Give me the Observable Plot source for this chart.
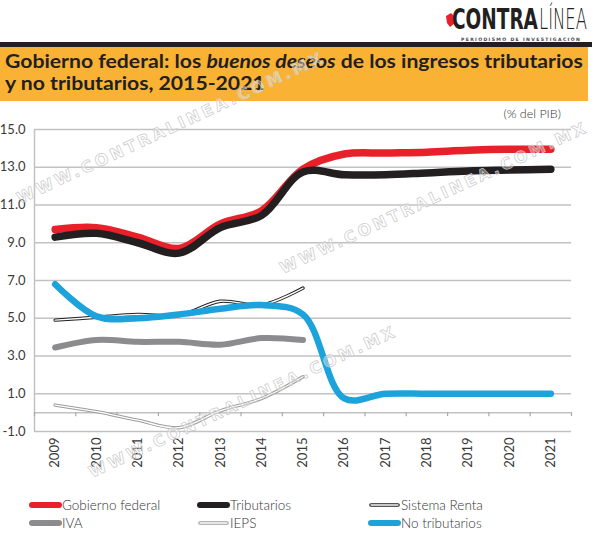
<!DOCTYPE html>
<html><head><meta charset="utf-8">
<script src="https://cdn.jsdelivr.net/npm/d3@7"></script>
<script src="https://cdn.jsdelivr.net/npm/@observablehq/plot@0.6"></script>
<style>
html,body{margin:0;padding:0;background:#fff;}
#page{position:relative;width:600px;height:542px;overflow:hidden;font-family:Lato,"Open Sans",sans-serif;color:#333;}
#chart{position:absolute;left:0;top:105px;}
#overlay{position:absolute;left:0;top:0;pointer-events:none;}
#header{position:absolute;left:0;top:0;}
</style></head>
<body>
<div id="page">
<svg id="header" width="600" height="130">
  <path d="M446,16 L451,13 L455,17 L455,23 L450,27 L447,23 Z" fill="#e8202a"/>
  <g id="logoAg" transform="translate(452,29)"><text id="logoA" x="0" y="0" font-family="'Liberation Sans Narrow', 'DejaVu Sans', sans-serif" font-weight="700" font-size="29" fill="#231f20">CONTRA</text></g>
  <g id="logoBg" transform="translate(539,29)"><text id="logoB" x="0" y="0" font-family="'DejaVu Sans', sans-serif" font-weight="200" font-size="29" fill="#231f20">LÍNEA</text></g>
  <text x="461" y="40.5" font-family="'DejaVu Sans', sans-serif" font-weight="700" font-size="4.6" fill="#444" letter-spacing="1.35">PERIODISMO DE INVESTIGACIÓN</text>
  <rect x="0" y="42" width="592" height="5" fill="#231f20"/>
  <rect x="0" y="47" width="588" height="54" fill="#f9b233"/>
  <g id="titleg" transform="translate(5,0)">
    <text id="title1" x="0" y="68" font-family="Lato, 'Open Sans', sans-serif" font-weight="700" font-size="18" fill="#231f20">Gobierno federal: los <tspan font-style="italic">buenos deseos</tspan> de los ingresos tributarios</text>
    <text id="title2" x="0" y="90" font-family="Lato, 'Open Sans', sans-serif" font-weight="700" font-size="18" fill="#231f20">y no tributarios, 2015-2021</text>
  </g>
  <text x="561" y="118" text-anchor="end" font-family="Lato, 'Open Sans', sans-serif" font-size="12.5" font-weight="300" fill="#333">(% del PIB)</text>
</svg>
<div id="chart"></div>
<svg id="overlay" width="600" height="542"></svg>
</div>
<script>
// ---- data ----
const years = [2009, 2010, 2011, 2012, 2013, 2014, 2015, 2016, 2017, 2018, 2019, 2020, 2021];
const gobiernoFederal = [9.7, 9.8, 9.3, 8.7, 10.0, 10.7, 12.9, 13.7, 13.75, 13.8, 13.9, 13.95, 13.95];
const tributarios = [9.3, 9.5, 9.0, 8.45, 9.8, 10.45, 12.75, 12.6, 12.6, 12.7, 12.8, 12.85, 12.9];
const sistemaRenta = [4.9, 5.05, 5.2, 5.15, 5.9, 5.7, 6.6];
const iva = [3.45, 3.85, 3.75, 3.75, 3.6, 3.95, 3.85];
const ieps = [0.4, 0.05, -0.4, -0.8, 0.1, 0.75, 1.9];
const noTributarios = [6.8, 5.1, 5.0, 5.2, 5.5, 5.7, 5.2, 0.75, 1.0, 1.0, 1.0, 1.0, 1.0];
const yTicks = [-1, 1, 3, 5, 7, 9, 11, 13, 15];
const seriesNames = ["Gobierno federal", "Tributarios", "Sistema Renta", "IVA", "IEPS", "No tributarios"];
const seriesColors = ["#e8202a", "#231f20", "#231f20", "#8c8c8e", "#9c9c9c", "#1da3dc"];
const watermark = "WWW.CONTRALINEA.COM.MX";

const rows = vals => vals.map((v, i) => ({year: years[i], value: v}));
const boundaries = years.map(y => y - 0.5).concat([years[years.length - 1] + 0.5]);
const F = "Lato, 'Open Sans', sans-serif";
const common = {x: "year", y: "value", curve: "catmull-rom", strokeLinecap: "round", strokeLinejoin: "round"};

const chart = Plot.plot({
  width: 600, height: 370,
  marginLeft: 34, marginRight: 29, marginTop: 24, marginBottom: 44,
  style: {fontFamily: F, fontSize: "13px", color: "#3a3a3a", background: "transparent", overflow: "visible"},
  x: {domain: [years[0] - 0.5, years[years.length - 1] + 0.5], label: null},
  y: {domain: [-1, 15], label: null},
  marks: [
    Plot.ruleY(yTicks.concat([0]), {stroke: "#c2c2c2", strokeWidth: 1.5}),
    Plot.ruleX([years[0] - 0.5], {stroke: "#c2c2c2", strokeWidth: 1.5}),
    Plot.ruleX(boundaries, {y1: 0, y2: 0, insetBottom: -4, stroke: "#a8a8a8", strokeWidth: 1.2}),
    Plot.axisY(yTicks, {tickSize: 0, tickPadding: 9, tickFormat: d => d.toFixed(1), fontSize: 13, fill: "#3a3a3a"}),
    Plot.axisX(years, {tickSize: 0, tickPadding: 6, tickRotate: -90, tickFormat: d => String(d), fontSize: 13, fill: "#3a3a3a"}),
    // IEPS (double gray line)
    Plot.line(rows(ieps), {...common, stroke: seriesColors[4], strokeWidth: 3.4}),
    Plot.line(rows(ieps), {...common, stroke: "#fff", strokeWidth: 1.4}),
    // IVA
    Plot.line(rows(iva), {...common, stroke: seriesColors[3], strokeWidth: 6}),
    // Sistema Renta (double black line)
    Plot.line(rows(sistemaRenta), {...common, stroke: seriesColors[2], strokeWidth: 3.4}),
    Plot.line(rows(sistemaRenta), {...common, stroke: "#fff", strokeWidth: 1.4}),
    // No tributarios
    Plot.line(rows(noTributarios), {...common, stroke: seriesColors[5], strokeWidth: 6.5}),
    // Gobierno federal, Tributarios
    Plot.line(rows(gobiernoFederal), {...common, stroke: seriesColors[0], strokeWidth: 7.5}),
    Plot.line(rows(tributarios), {...common, stroke: seriesColors[1], strokeWidth: 7.5})
  ]
});
document.getElementById("chart").appendChild(chart);

// fit title and logo words horizontally to the reference widths
function fit(){
  const t1 = document.getElementById("title1");
  const st = 578 / t1.getComputedTextLength();
  document.getElementById("titleg").setAttribute("transform", `translate(5,0) scale(${st.toFixed(4)},1)`);
  const a = document.getElementById("logoA"), b = document.getElementById("logoB");
  const sa = 86 / a.getComputedTextLength(), sb = 48 / b.getComputedTextLength();
  document.getElementById("logoAg").setAttribute("transform", `translate(452,29) scale(${sa.toFixed(3)},1)`);
  document.getElementById("logoBg").setAttribute("transform", `translate(539,29) scale(${sb.toFixed(3)},1)`);
}
fit();
if (document.fonts && document.fonts.ready) document.fonts.ready.then(fit);

// legend + watermark overlay
const ns = "http://www.w3.org/2000/svg";
const ov = document.getElementById("overlay");
function el(tag, attrs, text){
  const e = document.createElementNS(ns, tag);
  for (const k in attrs) e.setAttribute(k, attrs[k]);
  if (text != null) e.textContent = text;
  ov.appendChild(e);
  return e;
}
const legendCols = [32, 200, 371];
const legendRows = [505, 523];
const legendKinds = ["thick", "thick", "double", "thick", "double", "thick"];
seriesNames.forEach((name, i) => {
  const cx = legendCols[i % 3], cy = legendRows[Math.floor(i / 3)];
  const col = seriesColors[i];
  if (legendKinds[i] === "thick") {
    el("line", {x1: cx, x2: cx + 27, y1: cy, y2: cy, stroke: col, "stroke-width": 6, "stroke-linecap": "round"});
  } else {
    el("line", {x1: cx, x2: cx + 27, y1: cy, y2: cy, stroke: col, "stroke-width": 3.6, "stroke-linecap": "round"});
    el("line", {x1: cx, x2: cx + 27, y1: cy, y2: cy, stroke: "#fff", "stroke-width": 1.4, "stroke-linecap": "round"});
  }
  el("text", {x: cx + 30, y: cy + 4.5, "font-family": F, "font-size": 13.5, "font-weight": 300, fill: "#333"}, name);
});
[[20, 204], [283, 274], [92, 478]].forEach(([x, y]) => {
  el("text", {x: x, y: y, transform: `rotate(-25 ${x} ${y})`, "font-family": "'DejaVu Sans', sans-serif",
    "font-weight": 700, "font-size": 16, fill: "#fff", "fill-opacity": 0.35, stroke: "#c9c9c9", "stroke-width": 0.7,
    textLength: 335, lengthAdjust: "spacing"}, watermark);
});
</script>
</body></html>
